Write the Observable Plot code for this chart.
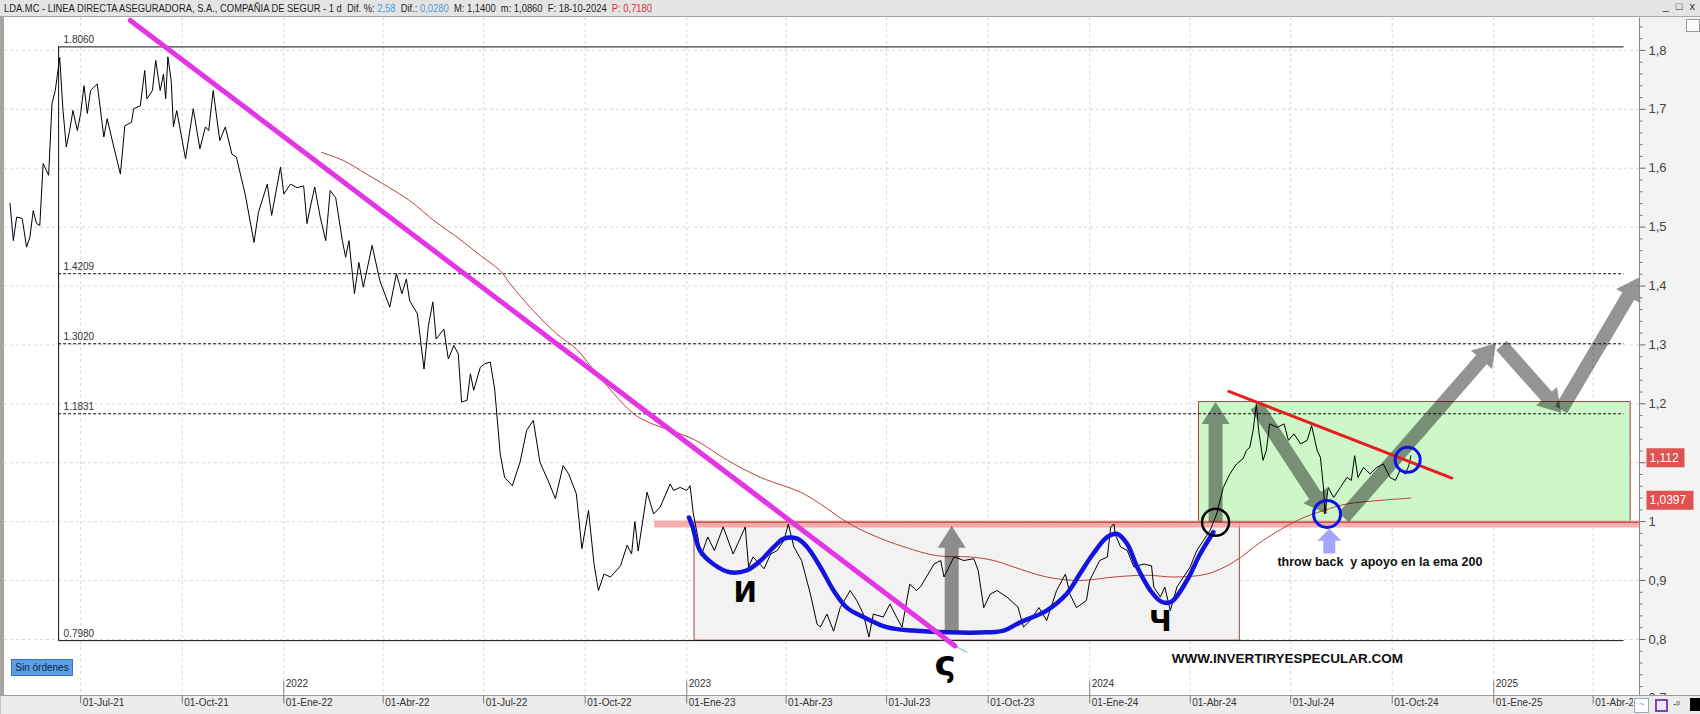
<!DOCTYPE html>
<html><head><meta charset="utf-8">
<script src="https://cdn.jsdelivr.net/npm/d3@7"></script>
<script src="https://cdn.jsdelivr.net/npm/@observablehq/plot@0.6"></script>
<style>
body{margin:0;width:1700px;height:714px;overflow:hidden;position:relative;background:#f3f3f3;font-family:"Liberation Sans",Arial,sans-serif}
#titlebar{position:absolute;left:0;top:0;width:1700px;height:16px;background:#e4e4e4;border-bottom:1px solid #a8a8a8}
#titletext{position:absolute;left:4px;top:1px;font-size:11px;line-height:14px;white-space:nowrap;transform-origin:0 0;color:#1e1e1e}
.blue{color:#4a9be0}.red{color:#e02a2a}
#winctl{position:absolute;right:3px;top:0px;font-size:11px;color:#333;letter-spacing:2px}
#leftbar{position:absolute;left:0;top:17px;width:4px;height:697px;background:#aaa39b}
#chart{position:absolute;left:0;top:17px}
#sin{position:absolute;left:11px;top:659px;width:60px;height:15px;background:#5d9fe6;border:1px solid #3a74c0;font-size:10px;line-height:15px;text-align:center;color:#0e2440}
#icons{position:absolute;left:1633px;top:697px;height:16px;width:67px;background:#ececec}
.ic{position:absolute;top:1px;height:13px}
#minibox{position:absolute;left:1686px;top:19px;width:12px;height:11px;border:1px solid #999;background:#fafafa}
</style></head>
<body>
<div id="titlebar"><span id="titletext">LDA.MC - LINEA DIRECTA ASEGURADORA, S.A., COMPAÑIA DE SEGUR - 1 d&nbsp; Dif. %: <span class="blue">2,58</span>&nbsp; Dif.: <span class="blue">0,0280</span>&nbsp; M: 1,1400&nbsp; m: 1,0860&nbsp; F: 18-10-2024&nbsp; <span class="red">P: 0,7180</span></span><span id="winctl">_ □ x</span></div>
<div id="leftbar"></div>
<div id="chart"></div>
<div id="minibox"></div>
<div id="sin">Sin órdenes</div>
<div id="icons">
  <div class="ic" style="left:1px;width:13px;border:1px solid #9ab;background:#fff;color:#7ab0e0;font-size:10px;line-height:12px;text-align:center">~</div>
  <div class="ic" style="left:22px;width:9px;border:2px solid #8040c0;height:9px;top:2px"></div>
  <div class="ic" style="left:40px;font-size:10px;color:#555">-ᵖ</div>
  <div class="ic" style="left:57px;width:10px;background:#000"></div>
</div>
<script>
// ---------------- data ----------------
const priceDates = ["2021-04-28","2021-05-01","2021-05-04","2021-05-09","2021-05-13","2021-05-16","2021-05-19","2021-05-22","2021-05-25","2021-05-28",
"2021-06-02","2021-06-05","2021-06-08","2021-06-12","2021-06-15","2021-06-18","2021-06-21","2021-06-24","2021-06-28","2021-07-01",
"2021-07-04","2021-07-07","2021-07-10","2021-07-16","2021-07-22","2021-07-25","2021-07-31","2021-08-06","2021-08-10","2021-08-16",
"2021-08-18","2021-08-24","2021-08-28","2021-08-30","2021-09-04","2021-09-07","2021-09-11","2021-09-14","2021-09-16","2021-09-18",
"2021-09-21","2021-09-23","2021-09-26","2021-10-04","2021-10-07","2021-10-11","2021-10-17","2021-10-22","2021-10-25","2021-10-29",
"2021-11-04","2021-11-09","2021-11-15","2021-11-19","2021-11-27","2021-12-05","2021-12-09","2021-12-17","2021-12-21","2021-12-29",
"2022-01-01","2022-01-07","2022-01-13","2022-01-19","2022-01-22","2022-01-25","2022-01-29","2022-02-03","2022-02-08","2022-02-12",
"2022-02-17","2022-02-23","2022-02-26","2022-03-01","2022-03-06","2022-03-10","2022-03-14","2022-03-22","2022-03-29","2022-04-07",
"2022-04-13","2022-04-18","2022-04-22","2022-04-25","2022-05-02","2022-05-08","2022-05-12","2022-05-16","2022-05-19","2022-05-26",
"2022-05-30","2022-06-04","2022-06-08","2022-06-11","2022-06-16","2022-06-19","2022-06-22","2022-06-28","2022-07-02","2022-07-07",
"2022-07-11","2022-07-16","2022-07-20","2022-07-27","2022-08-03","2022-08-09","2022-08-15","2022-08-21","2022-08-29","2022-09-04",
"2022-09-11","2022-09-16","2022-09-23","2022-09-28","2022-10-04","2022-10-09","2022-10-13","2022-10-18","2022-10-24","2022-11-02",
"2022-11-08","2022-11-12","2022-11-15","2022-11-18","2022-11-26","2022-12-02","2022-12-08","2022-12-17","2022-12-20","2022-12-26",
"2023-01-01","2023-01-04","2023-01-07","2023-01-11","2023-01-14","2023-01-20","2023-01-26","2023-02-03","2023-02-12","2023-02-23",
"2023-02-26","2023-03-02","2023-03-12","2023-03-18","2023-03-24","2023-03-30","2023-04-03","2023-04-08","2023-04-15","2023-04-23",
"2023-04-29","2023-05-02","2023-05-08","2023-05-14","2023-05-20","2023-05-29","2023-06-04","2023-06-10","2023-06-15","2023-06-19",
"2023-06-28","2023-07-04","2023-07-10","2023-07-15","2023-07-22","2023-07-28","2023-08-01","2023-08-13","2023-08-19","2023-08-22",
"2023-08-31","2023-09-09","2023-09-18","2023-09-22","2023-09-27","2023-10-03","2023-10-09","2023-10-18","2023-10-28","2023-11-02",
"2023-11-08","2023-11-16","2023-11-23","2023-12-02","2023-12-10","2023-12-14","2023-12-20","2023-12-29","2024-01-01","2024-01-10",
"2024-01-17","2024-01-20","2024-01-23","2024-01-24","2024-01-29","2024-02-04","2024-02-10","2024-02-19","2024-02-26","2024-02-28",
"2024-03-05","2024-03-09","2024-03-14","2024-03-20","2024-03-26","2024-04-01","2024-04-07","2024-04-13","2024-04-19","2024-04-25",
"2024-05-01","2024-05-07","2024-05-13","2024-05-19","2024-05-22","2024-05-25","2024-05-28","2024-05-31","2024-06-02","2024-06-06",
"2024-06-09","2024-06-12","2024-06-19","2024-06-25","2024-06-29","2024-07-04","2024-07-10","2024-07-16","2024-07-20","2024-07-25",
"2024-07-28","2024-07-31","2024-08-01","2024-08-04","2024-08-09","2024-08-15","2024-08-21","2024-08-25","2024-08-28","2024-08-31",
"2024-09-05","2024-09-11","2024-09-17","2024-09-23","2024-09-29","2024-10-04","2024-10-08","2024-10-13","2024-10-16","2024-10-18"];
const priceValues = [1.540,1.477,1.517,1.515,1.466,1.483,1.528,1.506,1.503,1.608,
1.588,1.710,1.732,1.788,1.698,1.636,1.664,1.698,1.664,1.693,
1.740,1.693,1.732,1.743,1.653,1.684,1.636,1.590,1.672,1.678,
1.701,1.706,1.766,1.718,1.732,1.783,1.732,1.760,1.718,1.789,
1.749,1.670,1.698,1.616,1.653,1.701,1.633,1.670,1.664,1.732,
1.647,1.670,1.624,1.619,1.556,1.474,1.525,1.573,1.520,1.602,
1.556,1.573,1.567,1.570,1.506,1.534,1.568,1.517,1.477,1.562,
1.550,1.477,1.449,1.477,1.387,1.440,1.398,1.469,1.409,1.364,
1.421,1.387,1.412,1.375,1.353,1.259,1.333,1.373,1.310,1.327,
1.276,1.299,1.285,1.203,1.206,1.251,1.223,1.262,1.268,1.271,
1.225,1.115,1.075,1.061,1.101,1.155,1.172,1.101,1.067,1.039,
1.095,1.081,1.047,0.954,1.019,0.928,0.883,0.911,0.906,0.925,
0.960,0.945,1.000,0.950,1.050,1.013,1.025,1.064,1.053,1.058,
1.053,1.061,1.013,0.974,0.942,0.974,0.951,0.991,0.945,0.991,
0.923,0.940,0.920,0.945,0.951,0.968,0.996,0.957,0.934,0.877,
0.826,0.821,0.843,0.814,0.854,0.883,0.866,0.843,0.804,0.843,
0.838,0.860,0.838,0.821,0.894,0.883,0.890,0.928,0.934,0.906,
0.940,0.934,0.937,0.917,0.854,0.877,0.883,0.872,0.855,0.821,
0.832,0.854,0.832,0.883,0.911,0.877,0.854,0.866,0.900,0.934,
0.940,0.991,0.996,0.979,0.957,0.951,0.923,0.928,0.925,0.889,
0.872,0.889,0.849,0.889,0.906,0.923,0.951,0.968,0.985,1.013,
1.058,1.081,1.098,1.107,1.121,1.126,1.155,1.200,1.155,1.104,
1.121,1.166,1.160,1.166,1.138,1.149,1.132,1.138,1.163,1.121,
1.109,1.053,1.013,1.058,1.041,1.058,1.075,1.070,1.112,1.075,
1.092,1.081,1.092,1.098,1.075,1.070,1.087,1.081,1.095,1.112];

const emaDates = ["2022-02-04","2022-02-24","2022-03-17","2022-04-25","2022-05-17","2022-06-07","2022-06-28","2022-07-16","2022-07-25","2022-08-15",
"2022-09-05","2022-09-23","2022-10-09","2022-10-27","2022-11-14","2022-11-27","2023-01-08","2023-02-07","2023-03-09","2023-04-14",
"2023-05-02","2023-05-26","2023-06-16","2023-07-17","2023-08-16","2023-09-15","2023-10-06","2023-10-24","2023-11-23","2023-12-23",
"2024-01-23","2024-02-22","2024-03-17","2024-04-16","2024-05-10","2024-06-06","2024-07-07","2024-07-31","2024-08-21","2024-09-20","2024-10-18"];
const emaValues = [1.627,1.613,1.590,1.545,1.511,1.483,1.452,1.426,1.404,1.358,
1.319,1.293,1.257,1.217,1.183,1.169,1.139,1.104,1.075,1.050,
1.030,0.999,0.979,0.957,0.942,0.940,0.934,0.923,0.906,0.900,
0.906,0.909,0.906,0.911,0.931,0.968,1.002,1.019,1.030,1.036,1.040];

// hand-drawn cup & handle curve
const cupDates = ["2023-01-03","2023-01-06","2023-01-13","2023-01-25","2023-02-09","2023-02-24","2023-03-09","2023-03-21","2023-03-30","2023-04-11",
"2023-04-20","2023-05-02","2023-05-14","2023-05-26","2023-06-10","2023-07-01","2023-07-25","2023-08-25","2023-09-30","2023-10-15",
"2023-10-30","2023-11-23","2023-12-11","2023-12-23","2024-01-04","2024-01-17","2024-01-26","2024-02-04","2024-02-13","2024-02-25",
"2024-03-06","2024-03-15","2024-03-29","2024-04-10","2024-04-22"];
const cupValues = [1.007,0.993,0.951,0.928,0.914,0.917,0.934,0.957,0.971,0.971,
0.957,0.923,0.883,0.854,0.838,0.821,0.815,0.812,0.812,0.815,
0.829,0.849,0.877,0.911,0.945,0.974,0.979,0.962,0.923,0.883,
0.864,0.864,0.900,0.945,0.982];

// Fibonacci retracement levels
const fibLevels = [1.806, 1.4209, 1.302, 1.1831, 0.798];
const fibLabels = ["1.8060", "1.4209", "1.3020", "1.1831", "0.7980"];
const fibDashed = [false, true, true, true, false];
const fibSpan = ["2021-06-11", "2025-04-29"];

// zones: base (gray) and breakout (green)
const zoneStart = ["2023-01-08", "2024-04-09"];
const zoneEnd = ["2024-05-16", "2025-05-05"];
const zoneLow = [0.798, 0.999];
const zoneHigh = [0.999, 1.203];

const supportLevel = 0.996;
const supportSpan = ["2022-12-03", "2025-05-13"];

// trend lines
const bearTrendDates = ["2021-08-15", "2023-09-01"];
const bearTrendValues = [1.851, 0.789];
const tailDates = ["2023-09-01", "2023-09-12"];
const tailValues = [0.789, 0.778];
const resistDates = ["2024-05-06", "2024-11-24"];
const resistValues = [1.221, 1.074];

// gray projection arrows
const arrowFromDates = ["2023-08-29", "2024-04-24", "2024-05-31", "2024-08-18", "2025-01-08", "2025-03-03"];
const arrowFromValues = [0.815, 0.999, 1.197, 1.007, 1.299, 1.190];
const arrowToDates = ["2023-08-29", "2024-04-24", "2024-08-03", "2025-01-03", "2025-03-03", "2025-05-13"];
const arrowToValues = [0.993, 1.203, 1.013, 1.303, 1.185, 1.415];

// support arrow (lavender)
const supportArrowDates = ["2024-08-05", "2024-08-05"];
const supportArrowValues = [0.946, 0.988];

// circles
const circleDates = ["2024-04-24", "2024-08-03", "2024-10-15"];
const circleValues = [0.999, 1.013, 1.105];
const circleRadius = [13.5, 13.5, 12.5];

// hand-written marks
const glyphDates = ["2023-02-23", "2023-08-23", "2024-03-05"];
const glyphValues = [0.878, 0.758, 0.829];
const glyphTexts = ["И", "ς", "Ч"];

const noteText = "throw back\u00a0 y apoyo en la ema 200";
const noteDate = "2024-06-19", noteValue = 0.931;
const siteText = "WWW.INVERTIRYESPECULAR.COM";
const siteDate = "2024-06-28", siteValue = 0.768;

// axes
const xTickDates = ["2021-07-01","2021-10-01","2022-01-01","2022-04-01","2022-07-01","2022-10-01","2023-01-01","2023-04-01",
"2023-07-01","2023-10-01","2024-01-01","2024-04-01","2024-07-01","2024-10-01","2025-01-01","2025-04-01"];
const xTickLabels = ["01-Jul-21","01-Oct-21","01-Ene-22","01-Abr-22","01-Jul-22","01-Oct-22","01-Ene-23","01-Abr-23",
"01-Jul-23","01-Oct-23","01-Ene-24","01-Abr-24","01-Jul-24","01-Oct-24","01-Ene-25","01-Abr-25"];
const yearDates = ["2022-01-01", "2023-01-01", "2024-01-01", "2025-01-01"];
const yearLabels = ["2022", "2023", "2024", "2025"];
const yTicks = [0.7,0.8,0.9,1.0,1.1,1.2,1.3,1.4,1.5,1.6,1.7,1.8];
const yTickLabels = ["0,7","0,8","0,9","1","1,1","1,2","1,3","1,4","1,5","1,6","1,7","1,8"];
const lastValues = [1.112, 1.0397];
const lastLabels = ["1,112", "1,0397"];

// ---------------- build ----------------
const D = s => new Date(s);
const price = priceDates.map((d, i) => ({date: D(d), value: priceValues[i]}));
const ema = emaDates.map((d, i) => ({date: D(d), value: emaValues[i]}));
const cup = cupDates.map((d, i) => ({date: D(d), value: cupValues[i]}));
const fib = fibLevels.map((v, i) => ({value: v, label: fibLabels[i], dashed: fibDashed[i], x1: D(fibSpan[0]), x2: D(fibSpan[1])}));
const zones = zoneStart.map((d, i) => ({x1: D(d), x2: D(zoneEnd[i]), y1: zoneLow[i], y2: zoneHigh[i]}));
const pairs = (ds, vs) => ds.map((d, i) => ({date: D(d), value: vs[i]}));
const arrows = arrowFromDates.flatMap((d, i) => [
  {id: i, date: D(d), value: arrowFromValues[i]},
  {id: i, date: D(arrowToDates[i]), value: arrowToValues[i]}]);
const circles = circleDates.map((d, i) => ({date: D(d), value: circleValues[i], r: circleRadius[i]}));
const glyphs = glyphDates.map((d, i) => ({date: D(d), value: glyphValues[i], text: glyphTexts[i]}));
const yMinor = d3.range(36, 93).map(k => k / 50).filter(v => Math.abs(v * 10 - Math.round(v * 10)) > 1e-6);
// labels hidden behind the last-value tags
const yLabelled = yTicks.map((v, i) => ({value: v, label: yTickLabels[i]}))
  .filter(d => lastValues.every(v => Math.abs(v - d.value) > 0.03));

function arrowCurve(shaft, headW, headL) {
  return function(context) {
    let pts = [];
    return {
      areaStart() {}, areaEnd() {},
      lineStart() { pts = []; },
      point(x, y) { pts.push([+x, +y]); },
      lineEnd() {
        if (pts.length < 2) return;
        const [x0, y0] = pts[0], [x1, y1] = pts[pts.length - 1];
        const L = Math.hypot(x1 - x0, y1 - y0) || 1;
        const ux = (x1 - x0) / L, uy = (y1 - y0) / L, nx = -uy, ny = ux;
        const bx = x1 - ux * headL, by = y1 - uy * headL;
        const s = shaft / 2, h = headW / 2;
        context.moveTo(x0 + nx * s, y0 + ny * s);
        context.lineTo(bx + nx * s, by + ny * s);
        context.lineTo(bx + nx * h, by + ny * h);
        context.lineTo(x1, y1);
        context.lineTo(bx - nx * h, by - ny * h);
        context.lineTo(bx - nx * s, by - ny * s);
        context.lineTo(x0 - nx * s, y0 - ny * s);
        context.closePath();
      }
    };
  };
}
const hTick = len => ({draw(ctx) { ctx.moveTo(0, 0); ctx.lineTo(len, 0); }});
const vTick = (a, b) => ({draw(ctx) { ctx.moveTo(0, a); ctx.lineTo(0, b); }});
const box = (x0, w, h) => ({draw(ctx) { ctx.rect(x0, -h / 2, w, h); }});

const W = 1700, H = 697, mL = 4, mR = 61, mB = 19;
const chart = Plot.plot({
  width: W, height: H,
  marginLeft: mL, marginRight: mR, marginTop: 0, marginBottom: mB,
  x: {type: "utc", domain: [D("2021-04-23"), D("2025-05-13")], axis: null},
  y: {domain: [0.7048, 1.8559], axis: null},
  r: {type: "identity"},
  style: {background: "transparent", overflow: "visible", fontFamily: "'Liberation Sans', Arial, sans-serif", fontSize: "10px"},
  marks: [
    Plot.frame({fill: "white", stroke: "none"}),
    // grid
    Plot.ruleX(xTickDates, {x: d => D(d), stroke: "#d6d6d6", strokeDasharray: "3,3"}),
    Plot.ruleY(yTicks, {y: d => d, stroke: "#d6d6d6", strokeDasharray: "3,3"}),
    // zones
    Plot.rect(zones.slice(0, 1), {x1: "x1", x2: "x2", y1: "y1", y2: "y2", fill: "#f2f2f2", stroke: "#a24a40", strokeWidth: 1}),
    Plot.rect(zones.slice(1), {x1: "x1", x2: "x2", y1: "y1", y2: "y2", fill: "#cdf7c9", stroke: "#9a4a40", strokeWidth: 1}),
    // support band
    Plot.ruleY([supportLevel], {y: d => d, x1: D(supportSpan[0]), x2: D(supportSpan[1]), stroke: "#f5a0a0", strokeOpacity: 0.85, strokeWidth: 7}),
    Plot.ruleY([zoneHigh[0]], {y: d => d, x1: D(zoneStart[0]), x2: D(supportSpan[1]), stroke: "#b03a30", strokeWidth: 1}),
    // fibonacci
    Plot.ruleY(fib.filter(d => !d.dashed), {y: "value", x1: "x1", x2: "x2", stroke: "#111", strokeWidth: 1}),
    Plot.ruleY(fib.filter(d => d.dashed), {y: "value", x1: "x1", x2: "x2", stroke: "#111", strokeWidth: 1, strokeDasharray: "3,2"}),
    Plot.ruleX([fib[0]], {x: "x1", y1: fibLevels[4], y2: fibLevels[0], stroke: "#111", strokeWidth: 1}),
    Plot.text(fib, {x: "x1", y: "value", text: "label", dx: 5, dy: -7, textAnchor: "start", fontSize: 10, fill: "#333"}),
    // ema & price
    Plot.line(ema, {x: "date", y: "value", stroke: "#b5443a", strokeWidth: 1, curve: "catmull-rom"}),
    Plot.line(price, {x: "date", y: "value", stroke: "#000", strokeWidth: 1}),
    // cup & handle
    Plot.line(cup, {x: "date", y: "value", stroke: "#1414e0", strokeWidth: 4.5, curve: "catmull-rom", strokeLinecap: "round"}),
    // bearish trendline
    Plot.line(pairs(tailDates, tailValues), {x: "date", y: "value", stroke: "#60b8e0", strokeWidth: 1}),
    Plot.line(pairs(bearTrendDates, bearTrendValues), {x: "date", y: "value", stroke: "#e335e3", strokeWidth: 5}),
    // projection arrows
    Plot.line(arrows, {x: "date", y: "value", z: "id", curve: arrowCurve(14, 28, 22), fill: "#000", fillOpacity: 0.42, stroke: "none"}),
    // resistance
    Plot.line(pairs(resistDates, resistValues), {x: "date", y: "value", stroke: "#e61e1e", strokeWidth: 3}),
    // circles
    Plot.dot(circles.slice(0, 1), {x: "date", y: "value", r: "r", stroke: "#000", strokeWidth: 2.5, fill: "none"}),
    Plot.dot(circles.slice(1), {x: "date", y: "value", r: "r", stroke: "#1010e6", strokeWidth: 3, fill: "none"}),
    Plot.line(pairs(supportArrowDates, supportArrowValues), {x: "date", y: "value", curve: arrowCurve(12, 24, 12), fill: "#a4a4fa", stroke: "none"}),
    // text
    Plot.text(glyphs.filter(d => d.text !== "ς"), {x: "date", y: "value", text: "text", fontSize: 28, fontWeight: "bold", fontFamily: "DejaVu Sans", fill: "#000"}),
    Plot.text(glyphs.filter(d => d.text === "ς"), {x: "date", y: "value", text: "text", fontSize: 36, fontWeight: "bold", fontFamily: "DejaVu Sans", fill: "#000"}),
    Plot.text([noteText], {x: D(noteDate), y: noteValue, text: d => d, textAnchor: "start", fontSize: 12.5, fontWeight: "bold", fill: "#111"}),
    Plot.text([siteText], {x: D(siteDate), y: siteValue, text: d => d, fontSize: 13.5, fontWeight: "bold", fill: "#111"}),
    // right axis
    Plot.dot([0], {frameAnchor: "top-right", symbol: vTick(0, H - mB), stroke: "#8a8a8a", fill: "none", strokeWidth: 1}),
    Plot.dot(yTicks, {y: d => d, frameAnchor: "right", symbol: hTick(6), stroke: "#666", fill: "none", strokeWidth: 1}),
    Plot.dot(yMinor, {y: d => d, frameAnchor: "right", symbol: hTick(3), stroke: "#777", fill: "none", strokeWidth: 1}),
    Plot.text(yLabelled, {y: "value", text: "label", frameAnchor: "right", dx: 9, textAnchor: "start", fontSize: 13, fill: "#444"}),
    Plot.dot([lastValues[0]], {y: d => d, frameAnchor: "right", dy: 2, symbol: box(7, 38, 19), fill: "#e05252", stroke: "none"}),
    Plot.dot([lastValues[1]], {y: d => d, frameAnchor: "right", dy: 2, symbol: box(7, 47, 19), fill: "#e05252", stroke: "none"}),
    Plot.text(lastValues, {y: d => d, text: (d, i) => lastLabels[i], frameAnchor: "right", dx: 10, dy: 2, textAnchor: "start", fontSize: 12, fill: "white"}),
    // bottom strip
    Plot.dot([0], {frameAnchor: "bottom-left", symbol: {draw(ctx) { ctx.rect(-mL, 0, W, mB); }}, fill: "#ececec", stroke: "none"}),
    Plot.dot([0], {frameAnchor: "bottom-left", symbol: {draw(ctx) { ctx.moveTo(-mL, 0); ctx.lineTo(W, 0); }}, stroke: "#9a9a9a", fill: "none", strokeWidth: 1}),
    Plot.dot(xTickDates, {x: d => D(d), frameAnchor: "bottom", symbol: vTick(0, 8), stroke: "#777", fill: "none", strokeWidth: 1}),
    Plot.text(xTickDates, {x: d => D(d), text: (d, i) => xTickLabels[i], frameAnchor: "bottom", dy: 10, dx: 2, textAnchor: "start", fontSize: 10, fill: "#333"}),
    Plot.dot(yearDates, {x: d => D(d), frameAnchor: "bottom", symbol: vTick(-15, 0), stroke: "#888", fill: "none", strokeWidth: 1}),
    Plot.text(yearDates, {x: d => D(d), text: (d, i) => yearLabels[i], frameAnchor: "bottom", dy: -9, dx: 2, textAnchor: "start", fontSize: 10, fill: "#333"})
  ]
});
document.getElementById("chart").appendChild(chart);

const tt = document.getElementById("titletext");
const tw = tt.getBoundingClientRect().width;
if (tw > 0) tt.style.transform = `scaleX(${648 / tw})`;
</script>
</body></html>
